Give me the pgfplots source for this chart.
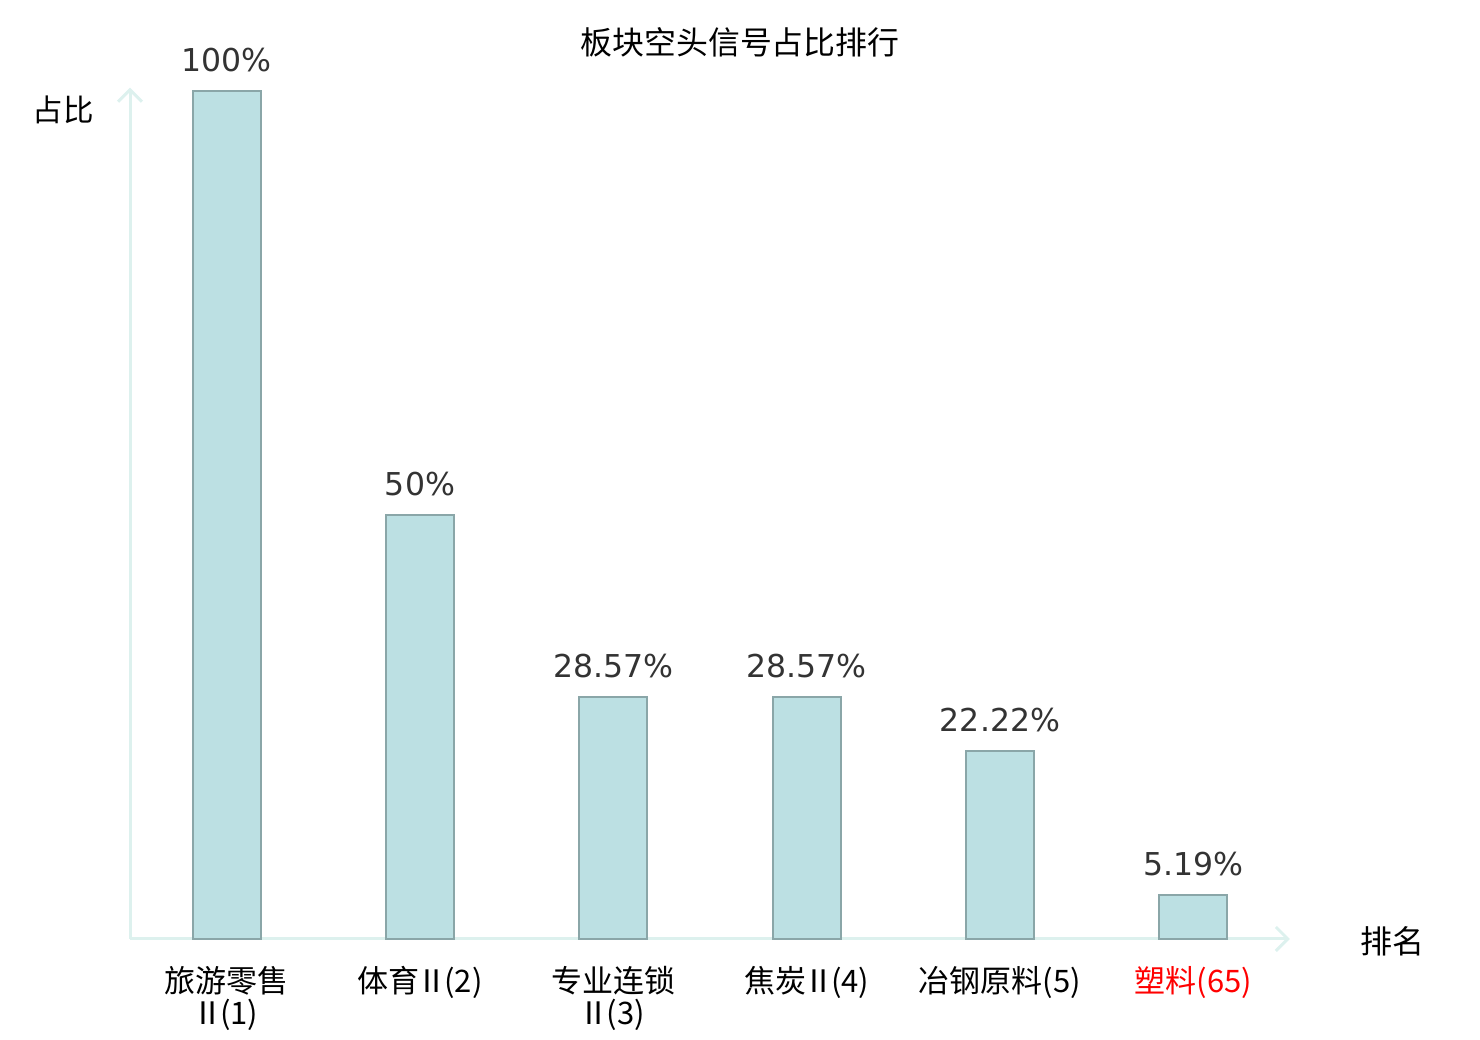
\documentclass[border=0pt]{standalone}
\usepackage{pgfplots}
\pgfplotsset{compat=1.18}
\usepackage{fontspec}
\setmainfont{Noto Sans CJK SC}
\newfontfamily\numfont{DejaVu Sans}
\usetikzlibrary{arrows.meta}
\definecolor{barfill}{HTML}{BCE0E3}
\definecolor{baredge}{HTML}{8AA6A8}
\definecolor{axcol}{HTML}{DDF1EE}
\definecolor{labcol}{HTML}{333333}
\newcommand\RII{\kern-3ptⅡ\kern-3pt}
\begin{document}
\begin{tikzpicture}
\path[use as bounding box] (0pt,0pt) rectangle (1480pt,1040pt);
\node[font=\fontsize{31.9}{36}\selectfont] at (740pt,998pt) {板块空头信号占比排行};
\node[font=\fontsize{30.5}{35}\selectfont] at (63pt,930pt) {占比};
\node[font=\fontsize{32}{36}\selectfont] at (1392pt,99pt) {排名};
\begin{axis}[
  at={(130pt,101pt)}, anchor=south west,
  scale only axis, width=1160pt, height=851.4pt,
  xmin=-0.5, xmax=5.5, ymin=0, ymax=100.4,
  axis line style={draw=none},
  clip=false,
  ytick=\empty,
  xtick={0,1,2,3,4,5},
  xticklabels={{旅游零售\\\RII(1)},{体育\RII(2)},{专业连锁\\\RII(3)},{焦炭\RII(4)},{冶钢原料(5)},{\textcolor{red}{塑料(65)}}},
  xticklabel style={font=\fontsize{31}{32}\selectfont, align=center, anchor=north, inner sep=0pt, yshift=-27pt},
  major tick length=0pt,
  tick style={draw=none},
  ybar, bar width=68pt, bar shift=0pt,
  /pgf/number format/assume math mode=true,
  nodes near coords={\pgfmathprintnumber{\pgfplotspointmeta}\%},
  point meta=explicit,
  nodes near coords style={font=\numfont\fontsize{31.5}{36}\selectfont, text=labcol, anchor=south, inner sep=0pt, yshift=18pt},
]
\draw[axcol, line width=3pt, -{Straight Barb[length=12pt,width=24pt,line width=3pt]}] (axis cs:-0.5,0) -- (axis cs:5.5,0);
\draw[axcol, line width=3pt, -{Straight Barb[length=12pt,width=24pt,line width=3pt]}] (axis cs:-0.5,0) -- (axis cs:-0.5,100.4);
\addplot[fill=barfill, draw=baredge, line width=2pt] table[meta=lab] {
x y lab
0 100 100
1 50 50
2 28.57 28.57
3 28.57 28.57
4 22.22 22.22
5 5.19 5.19
};
\end{axis}
\end{tikzpicture}
\end{document}
